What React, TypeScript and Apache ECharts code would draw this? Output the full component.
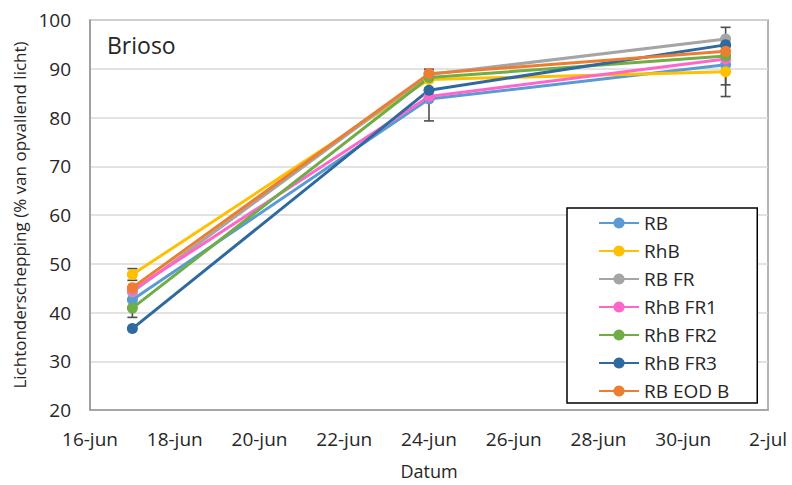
import React, { useEffect, useRef } from "react";
import * as echarts from "echarts";

const dates = ["17-jun", "24-jun", "1-jul"];
const seriesNames = ["RB", "RhB", "RB FR", "RhB FR1", "RhB FR2", "RhB FR3", "RB EOD B"];
const colors = ["#5B9BD5", "#FFC000", "#A5A5A5", "#FF66CC", "#70AD47", "#2E6AA0", "#ED7D31"];

const RB = [42.6, 83.8, 90.8];
const RhB = [47.8, 87.8, 89.4];
const RB_FR = [44.2, 88.8, 96.1];
const RhB_FR1 = [44.6, 84.3, 92.0];
const RhB_FR2 = [40.9, 88.2, 92.6];
const RhB_FR3 = [36.7, 85.6, 94.9];
const RB_EOD_B = [45.1, 89.0, 93.6];

const errRB = [0, 4.5, 4.1];
const errRhB = [1.2, 0, 5.1];
const errRB_FR = [0, 0, 2.4];
const errRhB_FR1 = [0, 0, 0];
const errRhB_FR2 = [1.9, 0, 0];
const errRhB_FR3 = [0, 0, 0];
const errRB_EOD_B = [0, 0.9, 0];

const yTicks = [20, 30, 40, 50, 60, 70, 80, 90, 100];

const allValues = [RB, RhB, RB_FR, RhB_FR1, RhB_FR2, RhB_FR3, RB_EOD_B];
const allErrors = [errRB, errRhB, errRB_FR, errRhB_FR1, errRhB_FR2, errRhB_FR3, errRB_EOD_B];

const FONT = "Open Sans";

function dayNum(d: string): number {
  const [n, m] = d.split("-");
  return m === "jul" ? Number(n) + 30 : Number(n);
}
function dayLabel(v: number): string {
  return v <= 30 ? `${v}-jun` : `${v - 30}-jul`;
}

export default function App() {
  const ref = useRef<HTMLDivElement>(null);
  useEffect(() => {
    if (!ref.current) return;
    const chart = echarts.init(ref.current, null, { renderer: "svg" });
    const xs = dates.map(dayNum);

    const errData: any[] = [];
    allValues.forEach((vals, si) => {
      vals.forEach((v, i) => {
        const e = allErrors[si][i];
        if (e > 0) errData.push([xs[i], v - e, v + e]);
      });
    });

    const lineSeries = seriesNames.map((name, si) => ({
      name,
      type: "line",
      data: xs.map((x, i) => [x, allValues[si][i]]),
      symbol: "circle",
      symbolSize: 11,
      lineStyle: { width: 3, color: colors[si] },
      itemStyle: { color: colors[si] },
      z: 3,
    }));

    chart.setOption({
      animation: false,
      backgroundColor: "#ffffff",
      grid: {
        left: 90,
        right: 24,
        top: 20,
        bottom: 72,
        show: true,
        borderColor: "#9a9a9a",
        borderWidth: 1.5,
      },
      xAxis: {
        type: "value",
        min: 16,
        max: 32,
        interval: 2,
        name: "Datum",
        nameLocation: "middle",
        nameGap: 52,
        nameTextStyle: { fontFamily: FONT, fontSize: 18, color: "#262626" },
        axisLine: { show: true, lineStyle: { color: "#9a9a9a", width: 1.5 } },
        axisTick: { show: false },
        splitLine: { show: false },
        axisLabel: {
          formatter: (v: number) => dayLabel(v),
          fontFamily: FONT,
          fontSize: 19,
          color: "#262626",
          margin: 19,
          showMaxLabel: true,
          showMinLabel: true,
        },
      },
      yAxis: {
        type: "value",
        min: yTicks[0],
        max: yTicks[yTicks.length - 1],
        interval: 10,
        name: "Lichtonderschepping (% van opvallend licht)",
        nameLocation: "middle",
        nameGap: 62,
        nameTextStyle: { fontFamily: FONT, fontSize: 17, color: "#262626" },
        axisLine: { show: true, lineStyle: { color: "#9a9a9a", width: 1.5 } },
        axisTick: { show: false },
        splitLine: { show: true, lineStyle: { color: "#d9d9d9", width: 1.5 } },
        axisLabel: {
          fontFamily: FONT,
          fontSize: 19,
          color: "#262626",
          margin: 19,
        },
      },
      legend: {
        orient: "vertical",
        left: 567,
        top: 208,
        data: seriesNames,
        itemWidth: 40,
        itemHeight: 14,
        itemGap: 8,
        padding: [5, 28, 2, 31],
        borderColor: "#000000",
        borderWidth: 1.5,
        backgroundColor: "#ffffff",
        textStyle: { fontFamily: FONT, fontSize: 19, color: "#262626", lineHeight: 20 },
      },
      graphic: [
        {
          type: "text",
          left: 107,
          top: 33,
          style: { text: "Brioso", font: `23px "${FONT}"`, fill: "#262626" },
        },
      ],
      series: [
        {
          type: "custom",
          name: "err",
          data: errData,
          z: 2,
          renderItem: (params: any, api: any) => {
            const x = api.value(0);
            const lo = api.coord([x, api.value(1)]);
            const hi = api.coord([x, api.value(2)]);
            const cap = 5;
            const style = { stroke: "#4d4d4d", lineWidth: 1.6 };
            return {
              type: "group",
              children: [
                { type: "line", shape: { x1: lo[0], y1: lo[1], x2: hi[0], y2: hi[1] }, style },
                { type: "line", shape: { x1: lo[0] - cap, y1: lo[1], x2: lo[0] + cap, y2: lo[1] }, style },
                { type: "line", shape: { x1: hi[0] - cap, y1: hi[1], x2: hi[0] + cap, y2: hi[1] }, style },
              ],
            };
          },
        },
        ...lineSeries,
      ],
    });
    return () => chart.dispose();
  }, []);
  return (
    <div
      ref={ref}
      style={{ position: "absolute", left: 0, top: 0, width: 792, height: 485 }}
    />
  );
}
